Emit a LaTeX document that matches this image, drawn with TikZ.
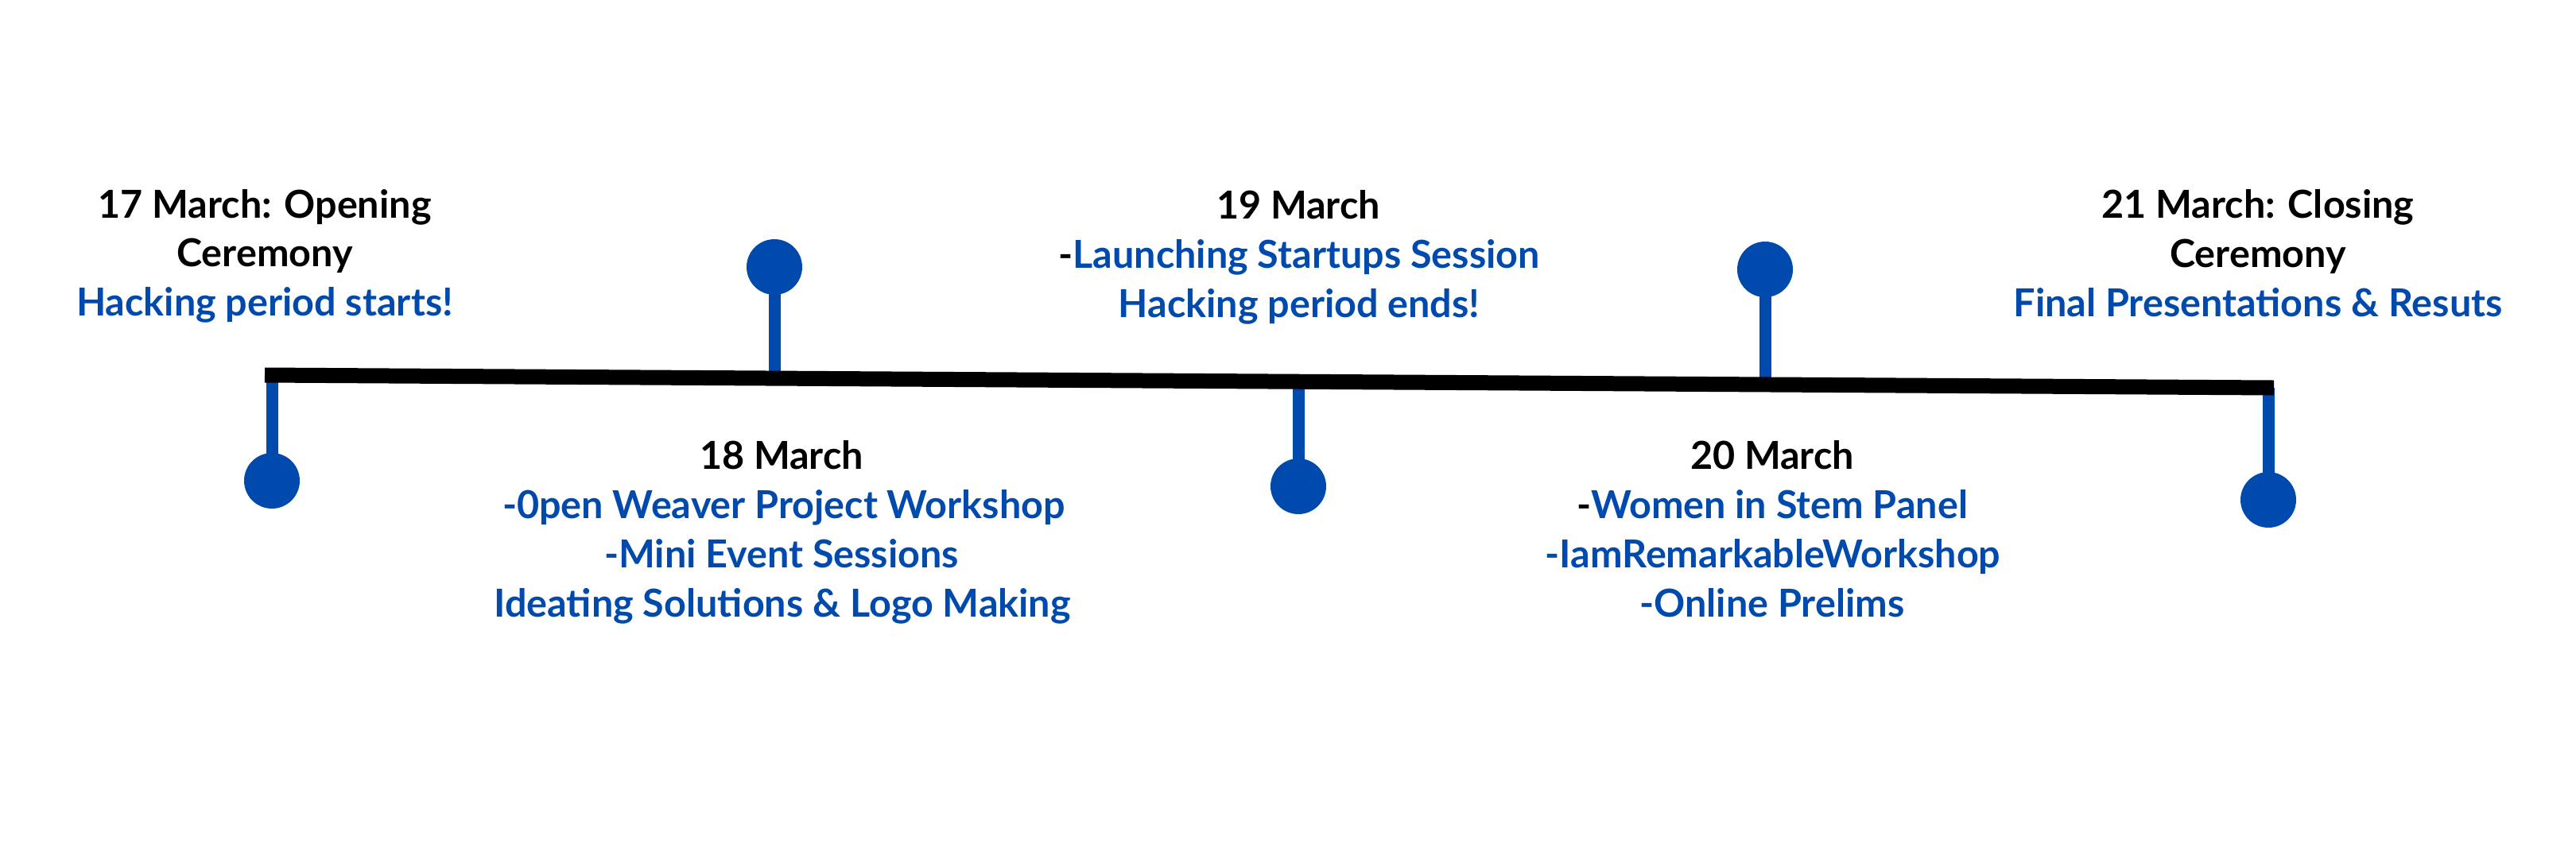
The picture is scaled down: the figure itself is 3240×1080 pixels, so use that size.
\documentclass[tikz,border=0pt]{standalone}
\usepackage{fontspec}
\setmainfont{Lato}
\definecolor{tlblue}{HTML}{004AAD}
\tikzset{
  dot/.style={circle, fill=tlblue, minimum size=70pt, inner sep=0pt},
  stem/.style={draw=tlblue, line width=15pt},
  axis/.style={draw=black, line width=19pt},
  txt/.style={font=\fontsize{48.5}{58}\selectfont\bfseries, anchor=base, inner sep=0pt, text=black},
  btxt/.style={txt, text=tlblue}
}
\begin{document}
\begin{tikzpicture}[x=1pt,y=-1pt]
\useasboundingbox (0,0) rectangle (3240,1080);
\fill[white] (0,0) rectangle (3240,1080);
% axis end points and stem feet
\coordinate (L) at (333,472);
\coordinate (R) at (2860,488);
\coordinate (f1) at (342,472);
\coordinate (f2) at (974,476);
\coordinate (f3) at (1633,480);
\coordinate (f4) at (2220,484);
\coordinate (f5) at (2853,488);
% dots
\node[dot] (d1) at (342,605) {};
\node[dot] (d2) at (974,336) {};
\node[dot] (d3) at (1633,612) {};
\node[dot] (d4) at (2220,339) {};
\node[dot] (d5) at (2853,629) {};
% stems
\draw[stem] (f1) -- (d1.center);
\draw[stem] (f2) -- (d2.center);
\draw[stem] (f3) -- (d3.center);
\draw[stem] (f4) -- (d4.center);
\draw[stem] (f5) -- (d5.center);
% axis
\draw[axis] (L) -- (R);
% texts
\node[txt]  (a1) at (333,274) {17 March: Opening};
\node[txt]  (a2) at (333,335) {Ceremony};
\node[btxt] (a3) at (333,397) {Hacking period starts!};
\node[txt]  (b1) at (983,590) {18 March};
\node[btxt] (b2) at (986,652) {-0pen Weaver Project Workshop};
\node[btxt] (b3) at (983,714) {-Mini Event Sessions};
\node[btxt] (b4) at (984,776) {Ideating Solutions \& Logo Making};
\node[txt]  (c1) at (1633,275) {19 March};
\node[btxt] (c2) at (1634,337) {{\color{black}-}Launching Startups Session};
\node[btxt] (c3) at (1634,399) {Hacking period ends!};
\node[txt]  (e1) at (2229,590) {20 March};
\node[btxt] (e2) at (2229,652) {{\color{black}-}Women in Stem Panel};
\node[btxt] (e3) at (2230,714) {-IamRemarkableWorkshop};
\node[btxt] (e4) at (2229,776) {-Online Prelims};
\node[txt]  (g1) at (2840,274) {21 March: Closing};
\node[txt]  (g2) at (2840,336) {Ceremony};
\node[btxt] (g3) at (2840,398) {Final Presentations \& Resuts};
\end{tikzpicture}
\end{document}
